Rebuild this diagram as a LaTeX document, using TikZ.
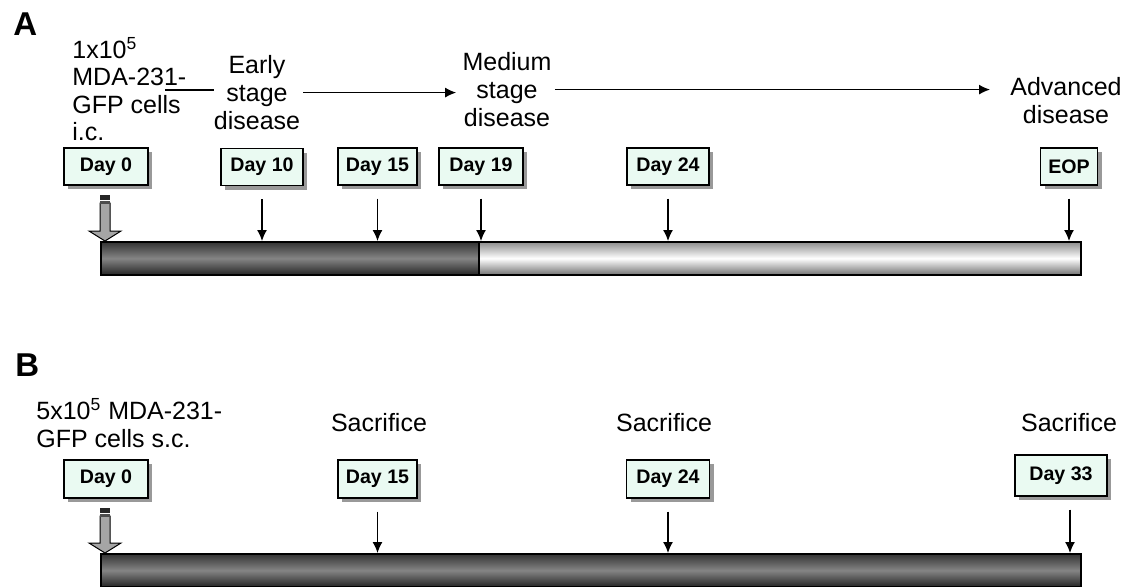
\documentclass[tikz,border=0pt]{standalone}
\usepackage{fontspec}
\setmainfont{Liberation Sans}
\usetikzlibrary{arrows.meta,shadows}

\definecolor{daybox}{RGB}{234,250,242}
\definecolor{injgray}{RGB}{165,165,165}

\begin{document}
\begin{tikzpicture}[
    x={(0.5pt,0pt)}, y={(0pt,-0.5pt)},
    day/.style={draw, line width=0.7pt, fill=daybox, inner sep=0pt,
        font=\bfseries\fontsize{9.8}{11}\selectfont, minimum height=18.5pt,
        drop shadow={shadow xshift=2pt, shadow yshift=-2pt, fill=black!40, opacity=1}},
    lbl/.style={font=\fontsize{12.5}{14}\selectfont, align=center, inner sep=0pt},
    panel/.style={font=\bfseries\fontsize{16.5}{18}\selectfont, inner sep=0pt, anchor=north west},
    darkbar/.style={draw, line width=0.8pt, inner sep=0pt, anchor=north west, minimum height=16.5pt,
        top color=black!80, bottom color=black!85, middle color=black!48},
    lightbar/.style={draw, line width=0.8pt, inner sep=0pt, anchor=north west, minimum height=16.5pt,
        top color=black!45, bottom color=black!55, middle color=white},
    tick/.style={-{Latex[length=5.5pt,width=5pt]}, line width=0.65pt},
    timeline/.style={line width=0.65pt}
]
    \useasboundingbox (0,0) rectangle (1134,586);
    \clip (0,0) rectangle (1134,586);

    % --- Panel A ---
    \node[panel] (labA) at (13,12) {A};

    % stages
    \node[lbl, anchor=north west, align=left, font=\fontsize{12.5}{13.8}\selectfont] (injA) at (72,37)
        {1x10\textsuperscript{5}\\MDA-231-\\GFP cells\\i.c.};
    \node[lbl, anchor=north] (early) at (257,55) {Early\\stage\\disease};
    \node[lbl, anchor=north] (medium) at (507,52) {Medium\\stage\\disease};
    \node[lbl, anchor=north] (advanced) at (1066,77) {Advanced\\disease};

    \coordinate (start) at (165,90);
    \draw[timeline] (start) -- (start -| early.west);
    \draw[timeline, tick, shorten <=1.5pt, shorten >=3pt] (early.east) -- (early.east -| medium.west);
    \draw[timeline, tick, shorten <=1.5pt, shorten >=10pt] (medium.east) -- (medium.east -| advanced.west);

    % days
    \node[day, minimum width=42pt] (a0) at (106,166.5) {Day 0};
    \node[day, minimum width=41pt] (a10) at (262,167) {Day 10};
    \node[day, minimum width=39.5pt] (a15) at (377.5,166.5) {Day 15};
    \node[day, minimum width=42pt] (a19) at (481,166.5) {Day 19};
    \node[day, minimum width=41pt] (a24) at (668,166.5) {Day 24};
    \node[day, minimum width=28.5pt] (aeop) at (1069,166.5) {EOP};

    % bar
    \node[darkbar, minimum width=189pt] (barA1) at (100,241) {};
    \node[lightbar, minimum width=301pt] (barA2) at (478,241) {};

    \foreach \d in {a10,a15,a19,a24,aeop}
        \draw[tick] ([yshift=-6.5pt]\d.south) -- (\d.south |- barA1.north);

    % injection arrow
    \fill[injgray, draw=black, line width=0.5pt] (100,203) -- (110,203) -- (110,231) -- (121,231)
        -- (105,241) -- (89,231) -- (100,231) -- cycle;
    \fill[black!85] (100,195) rectangle (110,199.5);
    \fill[black!70] (100,200.5) rectangle (110,203.5);

    % --- Panel B ---
    \node[panel] (labB) at (15,353) {B};

    \node[lbl, anchor=north west, align=left] (injB) at (36,398)
        {5x10\textsuperscript{5} MDA-231-\\GFP cells s.c.};
    \node[lbl, anchor=north] (sac1) at (379,413) {Sacrifice};
    \node[lbl, anchor=north] (sac2) at (664,413) {Sacrifice};
    \node[lbl, anchor=north] (sac3) at (1069,413) {Sacrifice};

    \node[day, minimum width=42pt, minimum height=19pt] (b0) at (106,479) {Day 0};
    \node[day, minimum width=39.5pt, minimum height=19pt] (b15) at (377.5,479) {Day 15};
    \node[day, minimum width=41.5pt, minimum height=19pt] (b24) at (668,479) {Day 24};
    \node[day, minimum width=46pt, minimum height=20.5pt] (b33) at (1061,475.5) {Day 33};

    \node[darkbar, minimum width=490pt] (barB) at (100,553) {};

    \foreach \d in {b15,b24}
        \draw[tick] ([yshift=-6.5pt]\d.south) -- (\d.south |- barB.north);
    \draw[tick] ([yshift=-6.5pt,xshift=4.5pt]b33.south) -- ([xshift=4.5pt]b33.south |- barB.north);

    \fill[injgray, draw=black, line width=0.5pt] (100,516) -- (110,516) -- (110,543) -- (121,543)
        -- (105,553) -- (89,543) -- (100,543) -- cycle;
    \fill[black!85] (100,508) rectangle (110,512.5);
    \fill[black!70] (100,513.5) rectangle (110,516.5);
\end{tikzpicture}
\end{document}
